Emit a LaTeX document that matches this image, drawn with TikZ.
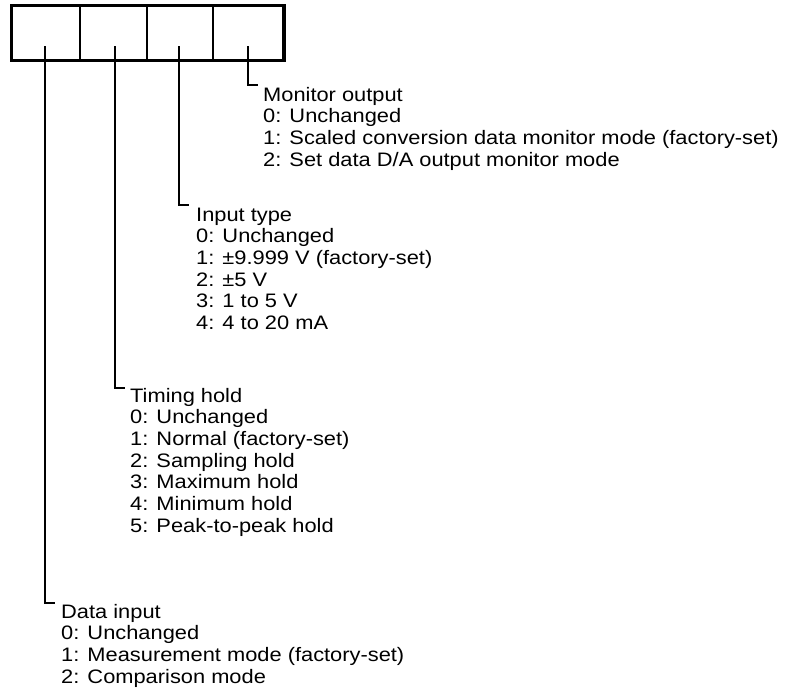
\documentclass[tikz,border=0pt]{standalone}
\usepackage{fontspec}
\setmainfont[FakeStretch=1.12]{Liberation Sans}
\begin{document}
\begin{tikzpicture}[x=1pt,y=-1pt,
  lbl/.style={anchor=base west,inner sep=0pt,font=\fontsize{19.5}{21.7}\selectfont},
  leader/.style={line width=1.4pt,line cap=rect},
  frame/.style={line width=3.3pt},
  divider/.style={line width=1.5pt}]
\useasboundingbox (0,0) rectangle (787,688);
% box
\draw[divider] (80,5) -- (80,61) (147,5) -- (147,61) (213,5) -- (213,61);
\draw[frame] (11.6,5.7) rectangle (283.9,60.3);
% coordinates for leaders
\coordinate (mtop) at (248,47);
\coordinate (mend) at (257,85);
\coordinate (itop) at (179,47);
\coordinate (iend) at (188,205);
\coordinate (ttop) at (115,47);
\coordinate (tend) at (124,388);
\coordinate (dtop) at (45,47);
\coordinate (dend) at (54,603);
\draw[leader] (mtop) |- (mend);
\draw[leader] (itop) |- (iend);
\draw[leader] (ttop) |- (tend);
\draw[leader] (dtop) |- (dend);
% Monitor output
\foreach \t [count=\i from 0] in {Monitor output,0: Unchanged,1: Scaled conversion data monitor mode (factory-set),2: Set data D/A output monitor mode}
  \node[lbl] (mon\i) at (263,{101+21.7*\i}) {\t};
% Input type
\foreach \t [count=\i from 0] in {Input type,0: Unchanged,1: ±9.999 V (factory-set),2: ±5 V,3: 1 to 5 V,4: 4 to 20 mA}
  \node[lbl] (inp\i) at (196,{221+21.7*\i}) {\t};
% Timing hold
\foreach \t [count=\i from 0] in {Timing hold,0: Unchanged,1: Normal (factory-set),2: Sampling hold,3: Maximum hold,4: Minimum hold,5: Peak-to-peak hold}
  \node[lbl] (tim\i) at (130,{402+21.7*\i}) {\t};
% Data input
\foreach \t [count=\i from 0] in {Data input,0: Unchanged,1: Measurement mode (factory-set),2: Comparison mode}
  \node[lbl] (dat\i) at (61,{618+21.7*\i}) {\t};
\end{tikzpicture}
\end{document}
